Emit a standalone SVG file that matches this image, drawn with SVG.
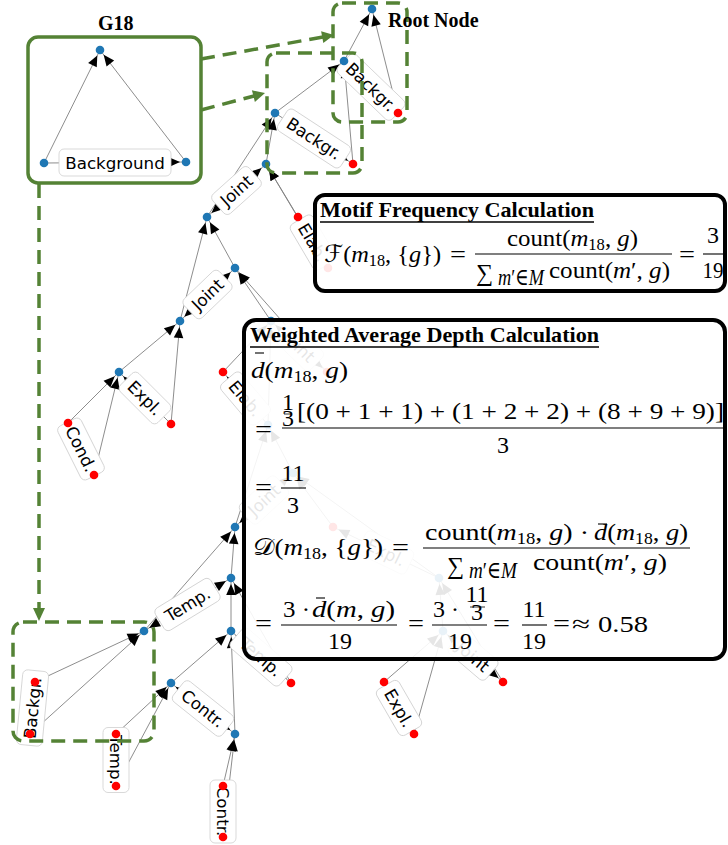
<svg xmlns="http://www.w3.org/2000/svg" width="728" height="845" viewBox="0 0 728 845">
<style>
.e{stroke:#808080;stroke-width:0.9;fill:none;marker-end:url(#ah)}
.b{stroke:#808080;stroke-width:0.9;fill:none;marker-start:url(#ah);marker-end:url(#ah)}
.lb rect{fill:#fff;stroke:#cfcfcf;stroke-width:0.8}
.lb text{font-family:"DejaVu Sans",sans-serif;font-size:16.7px;text-anchor:middle;fill:#000}
.nb{fill:#1f77b4}
.nr{fill:#ff0000}
.gd{fill:none;stroke:#548235;stroke-width:3.5;stroke-dasharray:14 8}
.gs{fill:none;stroke:#548235;stroke-width:3.5}
.ga{fill:#548235}
.m{font-family:"Liberation Serif","DejaVu Serif","DejaVu Sans",serif;font-size:24px;fill:#000}
.i{font-style:italic}
.t{font-family:"Liberation Serif",serif;font-weight:bold;font-size:22px;fill:#000}
.bar{stroke:#000;stroke-width:1.1}
.box{fill:#fff;fill-opacity:0.9;stroke:#000;stroke-width:4}
</style>
<defs>
<marker id="ah" viewBox="-20 -6 22 12" refX="0" refY="0" markerWidth="22" markerHeight="12" markerUnits="userSpaceOnUse" orient="auto-start-reverse" overflow="visible"><path d="M-6,0 L-17,-4.8 L-17,4.8 z" fill="#000"/></marker>
</defs>
<rect width="728" height="845" fill="#fff"/>

<g id="g18-frame">
<rect x="28" y="37" width="173" height="146" rx="10" fill="#fff" class="gs"/>
<text x="98" y="30" font-family="Liberation Serif, serif" font-weight="bold" font-size="20">G18</text>
</g>

<g id="connectors">
<line class="e" x1="44" y1="163" x2="100" y2="50"/>
<line class="e" x1="186" y1="162" x2="100" y2="50"/>
<line class="e" x1="44" y1="163" x2="186" y2="162"/>
<line class="e" x1="344" y1="61" x2="372" y2="9"/>
<line class="e" x1="398" y1="113" x2="372" y2="9"/>
<line class="e" x1="275" y1="113" x2="344" y2="61"/>
<line class="e" x1="353" y1="164" x2="344" y2="61"/>
<line class="e" x1="207" y1="217" x2="275" y2="113"/>
<line class="e" x1="266" y1="164" x2="275" y2="113"/>
<line class="e" x1="298" y1="217" x2="266" y2="164"/>
<line class="e" x1="328" y1="268" x2="266" y2="164"/>
<line class="e" x1="180" y1="321" x2="207" y2="217"/>
<line class="e" x1="235" y1="268" x2="207" y2="217"/>
<line class="e" x1="271" y1="321" x2="235" y2="268"/>
<line class="e" x1="327" y1="372" x2="235" y2="268"/>
<line class="e" x1="119" y1="372" x2="180" y2="321"/>
<line class="e" x1="171" y1="424" x2="180" y2="321"/>
<line class="e" x1="68" y1="423" x2="119" y2="372"/>
<line class="e" x1="94" y1="475" x2="119" y2="372"/>
<line class="e" x1="223" y1="372" x2="271" y2="321"/>
<line class="e" x1="268" y1="425" x2="271" y2="321"/>
<line class="e" x1="235" y1="527" x2="268" y2="425"/>
<line class="e" x1="293" y1="473" x2="268" y2="425"/>
<line class="e" x1="333" y1="527" x2="293" y2="473"/>
<line class="e" x1="439" y1="578" x2="293" y2="473"/>
<line class="e" x1="443" y1="631" x2="439" y2="578"/>
<line class="e" x1="503" y1="682" x2="439" y2="578"/>
<line class="e" x1="384" y1="682" x2="443" y2="631"/>
<line class="e" x1="414" y1="734" x2="443" y2="631"/>
<line class="e" x1="144" y1="631" x2="235" y2="527"/>
<line class="e" x1="231" y1="578" x2="235" y2="527"/>
<line class="e" x1="231" y1="631" x2="231" y2="578"/>
<line class="e" x1="291" y1="683" x2="231" y2="578"/>
<line class="e" x1="171" y1="683" x2="231" y2="631"/>
<line class="e" x1="235" y1="734" x2="231" y2="631"/>
<line class="e" x1="35" y1="682" x2="144" y2="631"/>
<line class="e" x1="30" y1="734" x2="144" y2="631"/>
<line class="e" x1="116" y1="734" x2="171" y2="683"/>
<line class="e" x1="116" y1="786" x2="171" y2="683"/>
<line class="e" x1="223" y1="786" x2="235" y2="734"/>
<line class="e" x1="223" y1="837" x2="235" y2="734"/>
<line class="e" x1="344" y1="61" x2="398" y2="113"/>
<line class="e" x1="275" y1="113" x2="353" y2="164"/>
<line class="b" x1="207" y1="217" x2="266" y2="164"/>
<line class="e" x1="328" y1="268" x2="298" y2="217"/>
<line class="b" x1="180" y1="321" x2="235" y2="268"/>
<line class="e" x1="171" y1="424" x2="119" y2="372"/>
<line class="e" x1="94" y1="475" x2="68" y2="423"/>
<line class="b" x1="271" y1="321" x2="327" y2="372"/>
<line class="e" x1="268" y1="425" x2="223" y2="372"/>
<line class="b" x1="235" y1="527" x2="293" y2="473"/>
<line class="e" x1="439" y1="578" x2="333" y2="527"/>
<line class="b" x1="443" y1="631" x2="503" y2="682"/>
<line class="e" x1="414" y1="734" x2="384" y2="682"/>
<line class="b" x1="144" y1="631" x2="231" y2="578"/>
<line class="b" x1="231" y1="631" x2="291" y2="683"/>
<line class="b" x1="171" y1="683" x2="235" y2="734"/>
<line class="e" x1="35" y1="682" x2="30" y2="734"/>
<line class="b" x1="116" y1="734" x2="116" y2="786"/>
<line class="b" x1="223" y1="786" x2="223" y2="837"/>
</g>

<g id="edge-labels" class="lb">
<g transform="translate(115,162.5)"><rect x="-56" y="-13.5" width="112" height="27" rx="5"/><text y="6">Background</text></g>
<g transform="translate(371,87) rotate(43.9)"><rect x="-37.5" y="-13" width="75" height="26" rx="5"/><text y="6">Backgr.</text></g>
<g transform="translate(314,138.5) rotate(33.2)"><rect x="-37.5" y="-13" width="75" height="26" rx="5"/><text y="6">Backgr.</text></g>
<g transform="translate(236.5,190.5) rotate(-41.9)"><rect x="-24.5" y="-13" width="49" height="26" rx="5"/><text y="6">Joint</text></g>
<g transform="translate(313,242.5) rotate(59.5)"><rect x="-26.5" y="-13" width="53" height="26" rx="5"/><text y="6">Elab.</text></g>
<g transform="translate(207.5,294.5) rotate(-43.9)"><rect x="-24.5" y="-13" width="49" height="26" rx="5"/><text y="6">Joint</text></g>
<g transform="translate(145,398) rotate(45)"><rect x="-26.5" y="-13" width="53" height="26" rx="5"/><text y="6">Expl.</text></g>
<g transform="translate(81,449) rotate(63.4)"><rect x="-30" y="-13" width="60" height="26" rx="5"/><text y="6">Cond.</text></g>
<g transform="translate(299,346.5) rotate(44)"><rect x="-24.5" y="-13" width="49" height="26" rx="5"/><text y="6">Joint</text></g>
<g transform="translate(245.5,398.5) rotate(49.7)"><rect x="-26.5" y="-13" width="53" height="26" rx="5"/><text y="6">Elab.</text></g>
<g transform="translate(264,500) rotate(-43)"><rect x="-24.5" y="-13" width="49" height="26" rx="5"/><text y="6">Joint</text></g>
<g transform="translate(386,552.5) rotate(25.7)"><rect x="-26.5" y="-13" width="53" height="26" rx="5"/><text y="6">Expl.</text></g>
<g transform="translate(473,656.5) rotate(40.4)"><rect x="-24.5" y="-13" width="49" height="26" rx="5"/><text y="6">Joint</text></g>
<g transform="translate(399,708) rotate(60)"><rect x="-26.5" y="-13" width="53" height="26" rx="5"/><text y="6">Expl.</text></g>
<g transform="translate(187.5,604.5) rotate(-31.4)"><rect x="-32.5" y="-13" width="65" height="26" rx="5"/><text y="6">Temp.</text></g>
<g transform="translate(261,657) rotate(40.9)"><rect x="-32.5" y="-13" width="65" height="26" rx="5"/><text y="6">Temp.</text></g>
<g transform="translate(203,708.5) rotate(38.6)"><rect x="-31.5" y="-13" width="63" height="26" rx="5"/><text y="6">Contr.</text></g>
<g transform="translate(32.5,708) rotate(-84.5)"><rect x="-37.5" y="-13" width="75" height="26" rx="5"/><text y="6">Backgr.</text></g>
<g transform="translate(116,760) rotate(90)"><rect x="-32.5" y="-13" width="65" height="26" rx="5"/><text y="6">Temp.</text></g>
<g transform="translate(223,811.5) rotate(90)"><rect x="-31.5" y="-13" width="63" height="26" rx="5"/><text y="6">Contr.</text></g>
</g>

<g id="nodes">
<g id="g18-top"><circle class="nb" cx="100" cy="50" r="4.3"/></g>
<g id="g18-left"><circle class="nb" cx="44" cy="163" r="4.3"/></g>
<g id="g18-right"><circle class="nb" cx="186" cy="162" r="4.3"/></g>
<g id="n-root"><circle class="nb" cx="372" cy="9" r="4.3"/></g>
<g id="n-a"><circle class="nb" cx="344" cy="61" r="4.3"/></g>
<g id="n-b"><circle class="nb" cx="275" cy="113" r="4.3"/></g>
<g id="n-c"><circle class="nb" cx="266" cy="164" r="4.3"/></g>
<g id="n-d"><circle class="nb" cx="207" cy="217" r="4.3"/></g>
<g id="n-e"><circle class="nb" cx="235" cy="268" r="4.3"/></g>
<g id="n-f"><circle class="nb" cx="180" cy="321" r="4.3"/></g>
<g id="n-q"><circle class="nb" cx="119" cy="372" r="4.3"/></g>
<g id="n-u"><circle class="nb" cx="271" cy="321" r="4.3"/></g>
<g id="n-g"><circle class="nb" cx="268" cy="425" r="4.3"/></g>
<g id="n-p"><circle class="nb" cx="293" cy="473" r="4.3"/></g>
<g id="n-n2"><circle class="nb" cx="439" cy="578" r="4.3"/></g>
<g id="n-n"><circle class="nb" cx="443" cy="631" r="4.3"/></g>
<g id="n-h"><circle class="nb" cx="235" cy="527" r="4.3"/></g>
<g id="n-i"><circle class="nb" cx="231" cy="578" r="4.3"/></g>
<g id="n-j"><circle class="nb" cx="231" cy="631" r="4.3"/></g>
<g id="n-k"><circle class="nb" cx="144" cy="631" r="4.3"/></g>
<g id="n-l"><circle class="nb" cx="171" cy="683" r="4.3"/></g>
<g id="n-m"><circle class="nb" cx="235" cy="734" r="4.3"/></g>
<g id="leaf-1"><circle class="nr" cx="398" cy="113" r="4.3"/></g>
<g id="leaf-2"><circle class="nr" cx="353" cy="164" r="4.3"/></g>
<g id="leaf-3"><circle class="nr" cx="298" cy="217" r="4.3"/></g>
<g id="leaf-4"><circle class="nr" cx="328" cy="268" r="4.3"/></g>
<g id="leaf-5"><circle class="nr" cx="68" cy="423" r="4.3"/></g>
<g id="leaf-6"><circle class="nr" cx="94" cy="475" r="4.3"/></g>
<g id="leaf-7"><circle class="nr" cx="171" cy="424" r="4.3"/></g>
<g id="leaf-8"><circle class="nr" cx="327" cy="372" r="4.3"/></g>
<g id="leaf-9"><circle class="nr" cx="223" cy="372" r="4.3"/></g>
<g id="leaf-10"><circle class="nr" cx="333" cy="527" r="4.3"/></g>
<g id="leaf-11"><circle class="nr" cx="503" cy="682" r="4.3"/></g>
<g id="leaf-12"><circle class="nr" cx="384" cy="682" r="4.3"/></g>
<g id="leaf-13"><circle class="nr" cx="414" cy="734" r="4.3"/></g>
<g id="leaf-14"><circle class="nr" cx="291" cy="683" r="4.3"/></g>
<g id="leaf-15"><circle class="nr" cx="35" cy="682" r="4.3"/></g>
<g id="leaf-16"><circle class="nr" cx="30" cy="734" r="4.3"/></g>
<g id="leaf-17"><circle class="nr" cx="116" cy="734" r="4.3"/></g>
<g id="leaf-18"><circle class="nr" cx="116" cy="786" r="4.3"/></g>
<g id="leaf-19"><circle class="nr" cx="223" cy="786" r="4.3"/></g>
<g id="leaf-20"><circle class="nr" cx="223" cy="837" r="4.3"/></g>
</g>

<g id="motif-highlights">
<rect class="gd" x="333" y="3" width="74" height="119" rx="9"/>
<rect class="gd" x="267" y="53" width="95" height="120" rx="9"/>
<rect class="gd" x="13" y="622" width="141" height="119" rx="10"/>
<line class="gd" x1="201" y1="59" x2="324" y2="36.8"/>
<polygon class="ga" points="334,35 323.3,43 321.1,31.2"/>
<line class="gd" x1="201" y1="110" x2="255" y2="95.7"/>
<polygon class="ga" points="265,93 254.9,101.9 251.9,90.3"/>
<line class="gd" x1="39" y1="184" x2="39" y2="611"/>
<polygon class="ga" points="39,621 33,608 45,608"/>
<text x="388" y="27" font-family="Liberation Serif, serif" font-weight="bold" font-size="20">Root Node</text>
</g>

<g id="motif-frequency-box">
<rect class="box" x="315" y="195" width="410" height="96" rx="10"/>
<text class="t" x="320" y="217" textLength="274" lengthAdjust="spacingAndGlyphs">Motif Frequency Calculation</text>
<line x1="320" y1="222" x2="594" y2="222" stroke="#000" stroke-width="1.5"/>
<text class="m" x="324" y="262" textLength="117" lengthAdjust="spacingAndGlyphs">ℱ(<tspan class="i">m</tspan><tspan font-size="16" dy="4">18</tspan><tspan dy="-4">, {</tspan><tspan class="i">g</tspan>})</text>
<text class="m" x="450" y="262" textLength="16" lengthAdjust="spacingAndGlyphs">=</text>
<text class="m" x="507" y="246" textLength="131" lengthAdjust="spacingAndGlyphs">count(<tspan class="i">m</tspan><tspan font-size="16" dy="4">18</tspan><tspan dy="-4">, </tspan><tspan class="i">g</tspan>)</text>
<line class="bar" x1="475" y1="254" x2="672" y2="254"/>
<text class="m" x="476" y="281" font-size="30">∑</text>
<text class="m" x="498" y="285" font-size="15" textLength="46" lengthAdjust="spacingAndGlyphs"><tspan class="i">m</tspan>′∈<tspan class="i">M</tspan></text>
<text class="m" x="549" y="278" textLength="121" lengthAdjust="spacingAndGlyphs">count(<tspan class="i">m</tspan>′, <tspan class="i">g</tspan>)</text>
<text class="m" x="679" y="262" textLength="16" lengthAdjust="spacingAndGlyphs">=</text>
<text class="m" x="713" y="243" text-anchor="middle">3</text>
<line class="bar" x1="703" y1="254" x2="723" y2="254"/>
<text class="m" x="713" y="278" text-anchor="middle" textLength="21" lengthAdjust="spacingAndGlyphs">19</text>
</g>

<g id="weighted-depth-box">
<rect class="box" x="244" y="320" width="481" height="339" rx="12"/>
<text class="t" x="250" y="342" textLength="349" lengthAdjust="spacingAndGlyphs">Weighted Average Depth Calculation</text>
<line x1="250" y1="347" x2="599" y2="347" stroke="#000" stroke-width="1.5"/>
<text class="m" x="251" y="378" textLength="97" lengthAdjust="spacingAndGlyphs"><tspan class="i">d</tspan>(<tspan class="i">m</tspan><tspan font-size="16" dy="4">18</tspan><tspan dy="-4">, </tspan><tspan class="i">g</tspan>)</text>
<line class="bar" x1="255" y1="353" x2="264" y2="353"/>
<text class="m" x="255" y="437" textLength="17" lengthAdjust="spacingAndGlyphs">=</text>
<text class="m" x="288" y="410" font-size="13" text-anchor="middle">1</text>
<line x1="284" y1="414" x2="292" y2="414" stroke="#000" stroke-width="0.8"/>
<text class="m" x="288" y="426" font-size="13" text-anchor="middle">3</text>
<text class="m" x="297" y="419" textLength="427" lengthAdjust="spacingAndGlyphs">[(0 + 1 + 1) + (1 + 2 + 2) + (8 + 9 + 9)]</text>
<line class="bar" x1="282" y1="428" x2="725" y2="428"/>
<text class="m" x="503" y="453" text-anchor="middle">3</text>
<text class="m" x="255" y="495" textLength="17" lengthAdjust="spacingAndGlyphs">=</text>
<text class="m" x="293" y="481" text-anchor="middle">11</text>
<line class="bar" x1="281" y1="488" x2="306" y2="488"/>
<text class="m" x="293" y="513" text-anchor="middle">3</text>
<text class="m" x="253" y="555" textLength="130" lengthAdjust="spacingAndGlyphs">𝒟(<tspan class="i">m</tspan><tspan font-size="16" dy="4">18</tspan><tspan dy="-4">, {</tspan><tspan class="i">g</tspan>})</text>
<text class="m" x="392" y="555" textLength="17" lengthAdjust="spacingAndGlyphs">=</text>
<text class="m" x="425" y="540" textLength="164" lengthAdjust="spacingAndGlyphs">count(<tspan class="i">m</tspan><tspan font-size="16" dy="4">18</tspan><tspan dy="-4">, </tspan><tspan class="i">g</tspan>) ·</text>
<text class="m" x="594" y="540" textLength="94" lengthAdjust="spacingAndGlyphs"><tspan class="i">d</tspan>(<tspan class="i">m</tspan><tspan font-size="16" dy="4">18</tspan><tspan dy="-4">, </tspan><tspan class="i">g</tspan>)</text>
<line class="bar" x1="598" y1="524" x2="607" y2="524"/>
<line class="bar" x1="423" y1="548" x2="690" y2="548"/>
<text class="m" x="447" y="574" font-size="30">∑</text>
<text class="m" x="469" y="578" font-size="15" textLength="48" lengthAdjust="spacingAndGlyphs"><tspan class="i">m</tspan>′∈<tspan class="i">M</tspan></text>
<text class="m" x="533" y="570" textLength="134" lengthAdjust="spacingAndGlyphs">count(<tspan class="i">m</tspan>′, <tspan class="i">g</tspan>)</text>
<text class="m" x="255" y="631" textLength="17" lengthAdjust="spacingAndGlyphs">=</text>
<text class="m" x="283" y="617" textLength="27" lengthAdjust="spacingAndGlyphs">3 ·</text>
<text class="m" x="312" y="617" textLength="83" lengthAdjust="spacingAndGlyphs"><tspan class="i">d</tspan>(<tspan class="i">m</tspan>, <tspan class="i">g</tspan>)</text>
<line class="bar" x1="316" y1="598" x2="325" y2="598"/>
<line class="bar" x1="281" y1="625" x2="397" y2="625"/>
<text class="m" x="340" y="649" text-anchor="middle">19</text>
<text class="m" x="408" y="631" textLength="16" lengthAdjust="spacingAndGlyphs">=</text>
<text class="m" x="433" y="617" textLength="26" lengthAdjust="spacingAndGlyphs">3 ·</text>
<text class="m" x="477" y="602" font-size="13" text-anchor="middle">11</text>
<line x1="470" y1="607" x2="485" y2="607" stroke="#000" stroke-width="0.8"/>
<text class="m" x="477" y="620" font-size="13" text-anchor="middle">3</text>
<line class="bar" x1="432" y1="625" x2="487" y2="625"/>
<text class="m" x="460" y="649" text-anchor="middle">19</text>
<text class="m" x="493" y="631" textLength="17" lengthAdjust="spacingAndGlyphs">=</text>
<text class="m" x="534" y="617" text-anchor="middle">11</text>
<line class="bar" x1="522" y1="625" x2="547" y2="625"/>
<text class="m" x="534" y="649" text-anchor="middle">19</text>
<text class="m" x="553" y="631" textLength="17" lengthAdjust="spacingAndGlyphs">=</text>
<text class="m" x="572" y="632" textLength="18" lengthAdjust="spacingAndGlyphs">≈</text>
<text class="m" x="598" y="632" textLength="50" lengthAdjust="spacingAndGlyphs">0.58</text>
</g>
</svg>
